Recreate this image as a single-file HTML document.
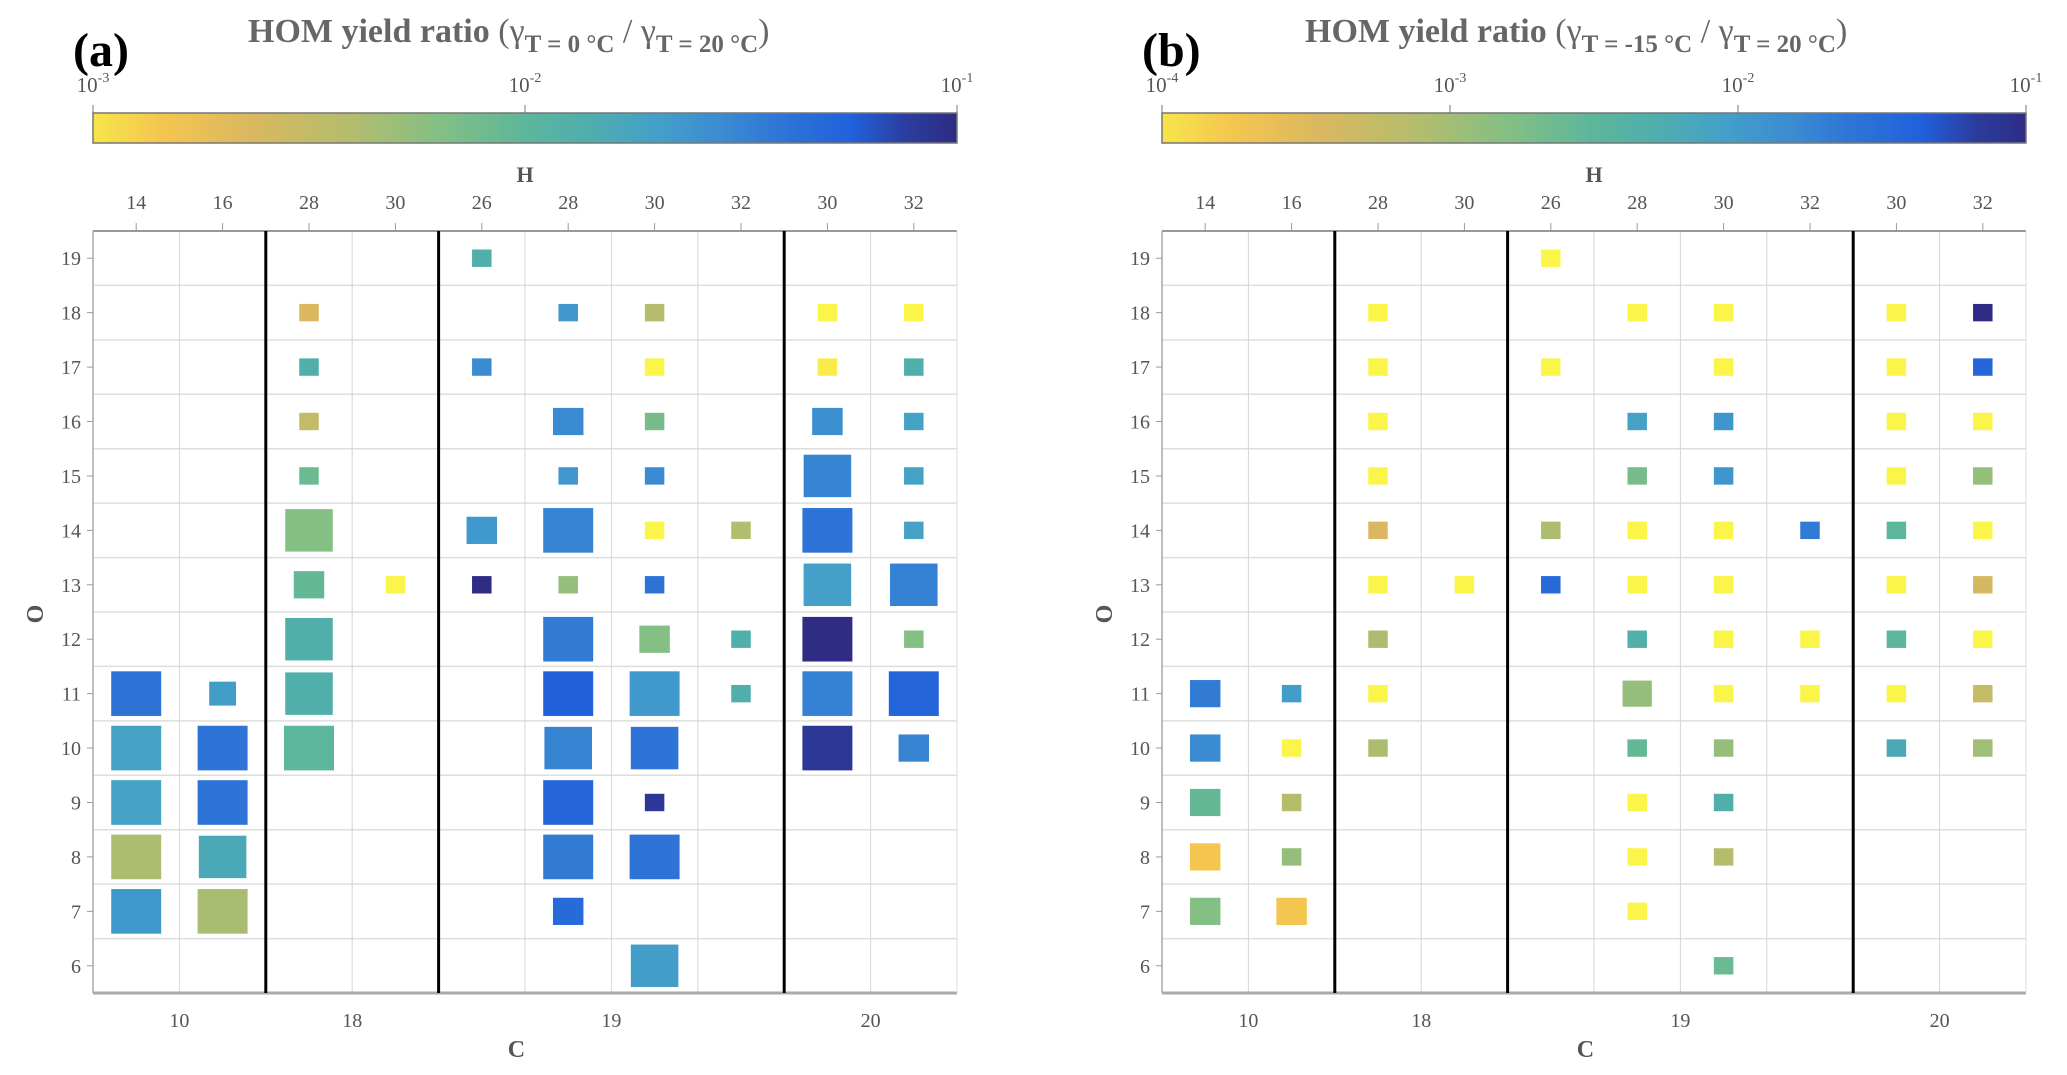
<!DOCTYPE html>
<html><head><meta charset="utf-8">
<style>
html,body{margin:0;padding:0;background:#fff;}
svg{display:block;font-family:"Liberation Serif",serif;}
</style></head>
<body>
<svg id="fig" width="2067" height="1075" viewBox="0 0 2067 1075" xmlns="http://www.w3.org/2000/svg">
<defs>
<linearGradient id="cmapGrad" x1="0" x2="1" y1="0" y2="0">
<stop offset="0" stop-color="#f6e54a"/><stop offset="0.08" stop-color="#f4c650"/><stop offset="0.18" stop-color="#dbb85f"/><stop offset="0.3" stop-color="#b2bd6e"/><stop offset="0.4" stop-color="#84bf84"/><stop offset="0.5" stop-color="#5cb69b"/><stop offset="0.58" stop-color="#4eadb0"/><stop offset="0.65" stop-color="#44a0c8"/><stop offset="0.73" stop-color="#3b8bd2"/><stop offset="0.8" stop-color="#2d74d6"/><stop offset="0.88" stop-color="#2160db"/><stop offset="0.94" stop-color="#2b3d9e"/><stop offset="1" stop-color="#2e2c85"/>
</linearGradient>
</defs>
</svg>
<script>
// ---- chart data ----
const hLabels = ["14","16","28","30","26","28","30","32","30","32"];
const cLabels = ["10","18","19","20"];
const cLabelPos = [1, 3, 6, 9];
const oTicks = [6,7,8,9,10,11,12,13,14,15,16,17,18,19];
const separators = [2, 4, 8];

// Panel (a): log10 ratio, colour scale 1e-3..1e-1
const aCol  = [0,0,0,0,0, 1,1,1,1,1, 2,2,2,2,2,2,2,2,2, 3, 4,4,4,4, 5,5,5,5,5,5,5,5,5,5,5, 6,6,6,6,6,6,6,6,6,6,6,6, 7,7,7, 8,8,8,8,8,8,8,8,8, 9,9,9,9,9,9,9,9,9];
const aO    = [11,10,9,8,7, 11,10,9,8,7, 18,17,16,15,14,13,12,11,10, 13, 19,17,14,13, 18,16,15,14,13,12,11,10,9,8,7, 18,17,16,15,14,13,12,11,10,9,8,6, 14,12,11, 18,17,16,15,14,13,12,11,10, 18,17,16,15,14,13,12,11,10];
const aVal  = [-1.40,-1.72,-1.72,-2.38,-1.64, -1.68,-1.40,-1.40,-1.80,-2.36, -2.64,-1.88,-2.50,-2.08,-2.20,-2.04,-1.88,-1.88,-2.00, -3.00, -1.88,-1.54,-1.64,-1.00, -1.62,-1.54,-1.62,-1.50,-2.28,-1.44,-1.24,-1.50,-1.28,-1.44,-1.32, -2.42,-3.00,-2.14,-1.54,-3.00,-1.40,-2.20,-1.64,-1.40,-1.08,-1.40,-1.68, -2.40,-1.88,-1.88, -3.00,-2.95,-1.58,-1.50,-1.40,-1.70,-1.00,-1.48,-1.08, -3.00,-1.88,-1.72,-1.72,-1.72,-1.48,-2.20,-1.28,-1.50];
const aSize = [0.82,0.82,0.82,0.82,0.82, 0.44,0.82,0.82,0.78,0.82, 0.32,0.32,0.32,0.32,0.78,0.50,0.78,0.78,0.82, 0.32, 0.32,0.32,0.50,0.32, 0.32,0.50,0.32,0.82,0.32,0.82,0.82,0.78,0.82,0.82,0.50, 0.32,0.32,0.32,0.32,0.32,0.32,0.50,0.82,0.78,0.32,0.82,0.78, 0.32,0.32,0.32, 0.32,0.32,0.50,0.78,0.82,0.78,0.82,0.82,0.82, 0.32,0.32,0.32,0.32,0.32,0.78,0.32,0.82,0.50];

// Panel (b): log10 ratio, colour scale 1e-4..1e-1
const bCol  = [0,0,0,0,0, 1,1,1,1,1, 2,2,2,2,2,2,2,2,2, 3, 4,4,4,4, 5,5,5,5,5,5,5,5,5,5,5, 6,6,6,6,6,6,6,6,6,6,6,6, 7,7,7, 8,8,8,8,8,8,8,8,8, 9,9,9,9,9,9,9,9,9];
const bO    = [11,10,9,8,7, 11,10,9,8,7, 18,17,16,15,14,13,12,11,10, 13, 19,17,14,13, 18,16,15,14,13,12,11,10,9,8,7, 18,17,16,15,14,13,12,11,10,9,8,6, 14,12,11, 18,17,16,15,14,13,12,11,10, 18,17,16,15,14,13,12,11,10];
const bVal  = [-1.66,-1.81,-2.56,-3.76,-2.80, -2.02,-4.00,-3.13,-2.92,-3.76, -4.00,-4.00,-4.00,-4.00,-3.46,-4.00,-3.07,-4.00,-3.07, -4.00, -4.00,-4.00,-3.07,-1.48, -4.00,-2.08,-2.71,-4.00,-4.00,-2.35,-2.92,-2.56,-4.00,-4.00,-4.00, -4.00,-4.00,-1.93,-1.93,-4.00,-4.00,-4.00,-4.00,-2.92,-2.32,-3.13,-2.62, -1.66,-4.00,-4.00, -4.00,-4.00,-4.00,-4.00,-2.50,-4.00,-2.50,-4.00,-2.20, -1.00,-1.42,-4.00,-2.92,-4.00,-3.40,-4.00,-3.28,-2.98];
const bSize = [0.50,0.50,0.50,0.50,0.50, 0.32,0.32,0.32,0.32,0.50, 0.32,0.32,0.32,0.32,0.32,0.32,0.32,0.32,0.32, 0.32, 0.32,0.32,0.32,0.32, 0.32,0.32,0.32,0.32,0.32,0.32,0.48,0.32,0.32,0.32,0.32, 0.32,0.32,0.32,0.32,0.32,0.32,0.32,0.32,0.32,0.32,0.32,0.32, 0.32,0.32,0.32, 0.32,0.32,0.32,0.32,0.32,0.32,0.32,0.32,0.32, 0.32,0.32,0.32,0.32,0.32,0.32,0.32,0.32,0.32];

// ---- rendering ----
const NS = "http://www.w3.org/2000/svg";
const svg = document.getElementById("fig");
const stops = [[0,[246,229,74]],[0.04,[250,240,74]],[0.08,[244,198,80]],[0.18,[219,184,95]],[0.3,[178,189,110]],[0.4,[132,191,132]],[0.5,[92,182,155]],[0.58,[78,173,176]],[0.65,[68,160,200]],[0.73,[59,139,210]],[0.8,[45,116,214]],[0.88,[33,96,219]],[0.94,[43,61,158]],[1,[46,44,133]]];
function cmap(t){
  t = Math.max(0, Math.min(1, t));
  if (t <= 0.02) return "rgb(251,245,74)";
  for (let i = 1; i < stops.length; i++) {
    if (t <= stops[i][0]) {
      const a = stops[i-1], b = stops[i], f = (t - a[0]) / (b[0] - a[0]);
      const c = a[1].map((v, k) => Math.round(v + (b[1][k] - v) * f));
      return "rgb(" + c.join(",") + ")";
    }
  }
  return "rgb(46,44,133)";
}
function mk(tag, attrs, parent){
  const e = document.createElementNS(NS, tag);
  for (const k in attrs) e.setAttribute(k, attrs[k]);
  (parent || svg).appendChild(e);
  return e;
}
function drawPanel(opts){
  const L = opts.L, R = opts.L + 864, T = 231, B = 993;
  const colW = (R - L) / 10, rowH = (B - T) / 14;
  const xOf = c => L + (c + 0.5) * colW;
  const yOf = o => T + (19.5 - o) * rowH;
  const g = mk("g", {});
  
  

  const lab = mk("text", {x: L - 20, y: 66, "font-size": 48, "font-weight": "bold", fill: "#000"}, g);
  lab.textContent = opts.letter;
  
  

  const title = mk("text", {x: opts.titleX, y: 42, "font-size": 34, "font-weight": "bold", fill: "#666"}, g);
  
  
  title.innerHTML = 'HOM yield ratio <tspan font-weight="normal" font-size="34">(γ</tspan><tspan font-size="25" dy="10">T = ' + opts.temp + ' °C</tspan><tspan font-size="34" font-weight="normal" dy="-10"> / γ</tspan><tspan font-size="25" dy="10">T = 20 °C</tspan><tspan font-size="34" font-weight="normal" dy="-10">)</tspan>';

  const cb = mk("rect", {x: L, y: 113, width: R - L, height: 30, fill: "url(#cmapGrad)", stroke: "#777", "stroke-width": 1.5}, g);
  
  
  const nDec = opts.cbTicks.length - 1;
  opts.cbTicks.forEach((p, i) => {
    const x = L + (R - L) * i / nDec;
    mk("line", {x1: x, x2: x, y1: 113, y2: 105, stroke: "#777", "stroke-width": 1}, g);
    const t = mk("text", {x: x, y: 92, "font-size": 21, fill: "#555", "text-anchor": "middle"}, g);
    
    
    t.innerHTML = '10<tspan font-size="14" dy="-10">' + p + '</tspan>';
  });

  for (let r = 0; r <= 14; r++) {
    const y = T + r * rowH;
    mk("line", {x1: L, x2: R, y1: y, y2: y, stroke: "#dedede", "stroke-width": 1.5}, g);
  }
  for (let c = 1; c < 10; c++) {
    const x = L + c * colW;
    mk("line", {x1: x, x2: x, y1: T, y2: B, stroke: "#d6d6d6", "stroke-width": 1}, g);
  }
  mk("line", {x1: L, x2: R, y1: T, y2: T, stroke: "#999", "stroke-width": 2}, g);
  mk("line", {x1: L, x2: R, y1: B, y2: B, stroke: "#aaa", "stroke-width": 3}, g);
  mk("line", {x1: L, x2: L, y1: T, y2: B, stroke: "#aaa", "stroke-width": 1.5}, g);
  mk("line", {x1: R, x2: R, y1: T, y2: B, stroke: "#ddd", "stroke-width": 1}, g);

  hLabels.forEach((h, c) => {
    const x = xOf(c);
    mk("line", {x1: x, x2: x, y1: T, y2: T - 8, stroke: "#999", "stroke-width": 1}, g);
    const t = mk("text", {x: x, y: 209, "font-size": 20, fill: "#555", "text-anchor": "middle"}, g);
    t.textContent = h;
    
    
  });
  const hT = mk("text", {x: (L + R) / 2, y: 182, "font-size": 22, "font-weight": "bold", fill: "#555", "text-anchor": "middle"}, g);
  hT.textContent = "H";
  
  

  cLabels.forEach((cl, i) => {
    const t = mk("text", {x: L + cLabelPos[i] * colW, y: 1027, "font-size": 20, fill: "#555", "text-anchor": "middle"}, g);
    t.textContent = cl;
    
    
  });
  const cT = mk("text", {x: L + 4.9 * colW, y: 1057, "font-size": 24, "font-weight": "bold", fill: "#555", "text-anchor": "middle"}, g);
  cT.textContent = "C";
  
  

  oTicks.forEach(o => {
    const y = yOf(o);
    mk("line", {x1: L, x2: L - 6, y1: y, y2: y, stroke: "#999", "stroke-width": 1}, g);
    const t = mk("text", {x: L - 12, y: y + 7, "font-size": 20, fill: "#555", "text-anchor": "end"}, g);
    t.textContent = o;
    
    
  });
  const oT = mk("text", {x: L - 50, y: 614, "font-size": 24, "font-weight": "bold", fill: "#555", "text-anchor": "middle", transform: "rotate(-90 " + (L - 50) + " 614)"}, g);
  oT.textContent = "O";
  
  

  separators.forEach(s => {
    const x = L + s * colW;
    const ln = mk("line", {x1: x, x2: x, y1: T, y2: B, stroke: "#000", "stroke-width": 3}, g);
    
    
  });

  for (let i = 0; i < opts.cols.length; i++) {
    const h = opts.sizes[i] * rowH, w = h * 1.12;
    const cx = xOf(opts.cols[i]), cy = yOf(opts.os[i]);
    const t = (opts.vals[i] - opts.vmin) / (opts.vmax - opts.vmin);
    const r = mk("rect", {x: cx - w / 2, y: cy - h / 2, width: w, height: h, fill: cmap(t)}, g);
    
    
  }
}
drawPanel({name: "panel-a", letter: "(a)", L: 93, titleX: 248, temp: "0", cbTicks: ["-3","-2","-1"], vmin: -3, vmax: -1, cols: aCol, os: aO, vals: aVal, sizes: aSize});
drawPanel({name: "panel-b", letter: "(b)", L: 1162, titleX: 1305, temp: "-15", cbTicks: ["-4","-3","-2","-1"], vmin: -4, vmax: -1, cols: bCol, os: bO, vals: bVal, sizes: bSize});
</script>
</body></html>
